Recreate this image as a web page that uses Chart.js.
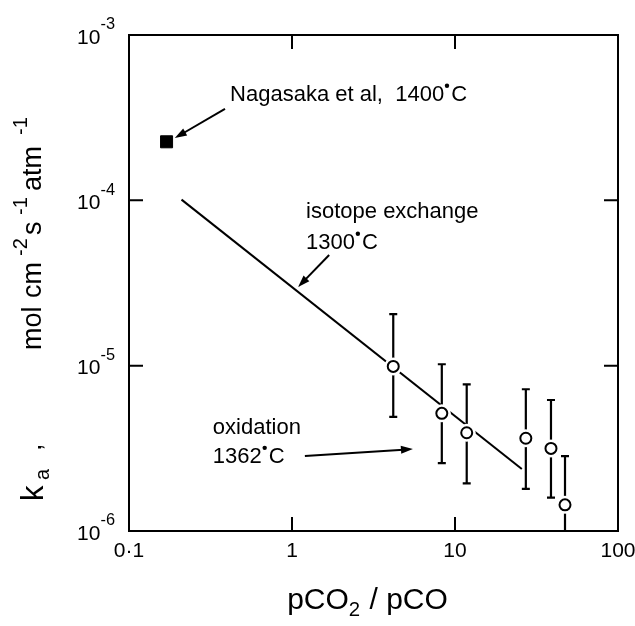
<!DOCTYPE html>
<html lang="en">
<head>
<meta charset="UTF-8">
<title>Surface rate constant vs pCO2/pCO</title>
<script src="https://cdn.jsdelivr.net/npm/chart.js"></script>
<style>
  html, body { margin: 0; padding: 0; background: #fff; }
  canvas { display: block; }
</style>
</head>
<body>
<canvas id="rateChart" width="635" height="626"></canvas>
<script>
// oxidation measurements, 1362 C (value plus error bar limits)
const ratio = [4.18, 8.3, 11.8, 27.2, 38.8, 47.3];
const rate = [9.9e-6, 5.15e-6, 3.93e-6, 3.64e-6, 3.16e-6, 1.44e-6];
const rateHigh = [2.05e-5, 1.02e-5, 7.7e-6, 7.2e-6, 6.2e-6, 2.84e-6];
const rateLow = [4.9e-6, 2.57e-6, 1.94e-6, 1.8e-6, 1.59e-6, 0.9e-6];

// isotope exchange line, 1300 C (end points)
const exchangeRatio = [0.21, 25.7];
const exchangeRate = [1.01e-4, 2.37e-6];

// Nagasaka et al, 1400 C
const nagasakaRatio = [0.17];
const nagasakaRate = [2.26e-4];

// axis ticks
const xTicks = [0.1, 1, 10, 100];
const xTickLabels = ['0·1', '1', '10', '100'];
const yTicks = [1e-6, 1e-5, 1e-4, 1e-3];
const yTickExp = ['-6', '-5', '-4', '-3'];
// small inward ticks on every side
const xInnerTicks = [1, 10];
const yInnerTicks = [1e-5, 1e-4];

const FONT = '"Liberation Sans", Arial, sans-serif';

// labels in data coordinates
const notes = [
  { x: 0.417, y: 4.34e-4, parts: [['Nagasaka et al,  1400'], ['', 'deg'], ['C']] },
  { x: 1.22, y: 8.5e-5, parts: [['isotope exchange']] },
  { x: 1.22, y: 5.52e-5, parts: [['1300'], ['', 'deg'], ['C']] },
  { x: 0.327, y: 4.2e-6, parts: [['oxidation']] },
  { x: 0.327, y: 2.8e-6, parts: [['1362'], ['', 'deg'], ['C']] }
];
const arrows = [
  { from: [0.388, 3.57e-4], to: [0.191, 2.38e-4] },
  { from: [1.69, 4.67e-5], to: [1.09, 2.99e-5] },
  { from: [1.2, 2.84e-6], to: [5.52, 3.13e-6] }
];

const toPoints = (xs, ys) => xs.map((x, i) => ({ x: x, y: ys[i] }));

// text with sub/superscripts and a raised degree dot
function richWidth(ctx, parts, size, supScale) {
  let w = 0;
  parts.forEach(p => {
    if (p[1] === 'deg') { w += size * 0.32; return; }
    const s = p[1] ? size * (supScale || 0.68) : size;
    ctx.font = s + 'px ' + FONT;
    w += ctx.measureText(p[0]).width + (p[1] ? 1 : 0);
  });
  return w;
}

function drawRich(ctx, x, y, parts, size, supScale, supRise) {
  ctx.textBaseline = 'middle';
  ctx.textAlign = 'left';
  let cx = x;
  parts.forEach(p => {
    if (p[1] === 'deg') {
      ctx.beginPath();
      ctx.arc(cx + size * 0.13, y - size * 0.42, size * 0.1, 0, Math.PI * 2);
      ctx.fill();
      cx += size * 0.32;
      return;
    }
    const s = p[1] ? size * (supScale || 0.68) : size;
    const dy = p[1] === 'sup' ? -size * (supRise || 0.45) : p[1] === 'sub' ? size * 0.32 : 0;
    ctx.font = s + 'px ' + FONT;
    ctx.fillText(p[0], cx, y + dy);
    cx += ctx.measureText(p[0]).width + (p[1] ? 1 : 0);
  });
}

function arrow(ctx, x1, y1, x2, y2) {
  const a = Math.atan2(y2 - y1, x2 - x1);
  const len = 12, half = 4;
  ctx.beginPath();
  ctx.moveTo(x1, y1);
  ctx.lineTo(x2 - Math.cos(a) * len * 0.8, y2 - Math.sin(a) * len * 0.8);
  ctx.stroke();
  ctx.beginPath();
  ctx.moveTo(x2, y2);
  ctx.lineTo(x2 - Math.cos(a) * len - Math.sin(a) * half, y2 - Math.sin(a) * len + Math.cos(a) * half);
  ctx.lineTo(x2 - Math.cos(a) * len + Math.sin(a) * half, y2 - Math.sin(a) * len - Math.cos(a) * half);
  ctx.closePath();
  ctx.fill();
}

// y title pieces: text, style, offset along the rotated baseline
const yTitle = [
  ['k', null, 26], ['a', 'sub', 47], [',', null, 76],
  ['mol', null, 177], ['cm', null, 229], ['-2', 'sup', 271],
  ['s', null, 292], ['-1', 'sup', 312], ['atm', null, 336], ['-1', 'sup', 392]
];

const framePlugin = {
  id: 'frame',
  beforeDatasetDraw(chart, args) {
    // error bars sit under the open circles
    if (args.index !== 2) return;
    const { ctx, chartArea: a, scales: { x, y } } = chart;
    ctx.save();
    ctx.beginPath();
    ctx.rect(a.left, a.top, a.right - a.left, a.bottom - a.top);
    ctx.clip();
    ctx.strokeStyle = '#000';
    ctx.lineWidth = 2.2;
    ratio.forEach((r, i) => {
      const px = x.getPixelForValue(r);
      const hi = y.getPixelForValue(rateHigh[i]);
      const lo = y.getPixelForValue(rateLow[i]);
      ctx.beginPath();
      ctx.moveTo(px, hi);
      ctx.lineTo(px, lo);
      ctx.moveTo(px - 4, hi);
      ctx.lineTo(px + 4, hi);
      ctx.moveTo(px - 4, lo);
      ctx.lineTo(px + 4, lo);
      ctx.stroke();
    });
    ctx.restore();
  },
  afterDraw(chart) {
    const { ctx, chartArea: a, scales: { x, y } } = chart;
    ctx.save();
    ctx.strokeStyle = '#000';
    ctx.fillStyle = '#000';
    ctx.lineWidth = 2;
    ctx.strokeRect(a.left, a.top, a.right - a.left, a.bottom - a.top);

    // inward ticks
    ctx.beginPath();
    xInnerTicks.forEach(v => {
      const px = x.getPixelForValue(v);
      ctx.moveTo(px, a.bottom); ctx.lineTo(px, a.bottom - 14);
      ctx.moveTo(px, a.top); ctx.lineTo(px, a.top + 14);
    });
    yInnerTicks.forEach(v => {
      const py = y.getPixelForValue(v);
      ctx.moveTo(a.left, py); ctx.lineTo(a.left + 14, py);
      ctx.moveTo(a.right, py); ctx.lineTo(a.right - 14, py);
    });
    ctx.stroke();

    // tick labels
    ctx.font = '21px ' + FONT;
    ctx.textAlign = 'center';
    ctx.textBaseline = 'middle';
    xTicks.forEach((v, i) => {
      ctx.fillText(xTickLabels[i], x.getPixelForValue(v), a.bottom + 20);
    });
    yTicks.forEach((v, i) => {
      const parts = [['10'], [yTickExp[i], 'sup']];
      const w = richWidth(ctx, parts, 21, 0.78);
      drawRich(ctx, a.left - 13 - w, y.getPixelForValue(v) + 3, parts, 21, 0.78, 0.62);
    });

    // annotations
    notes.forEach(n => {
      drawRich(ctx, x.getPixelForValue(n.x), y.getPixelForValue(n.y), n.parts, 22);
    });
    ctx.lineWidth = 2;
    arrows.forEach(ar => {
      arrow(ctx,
        x.getPixelForValue(ar.from[0]), y.getPixelForValue(ar.from[1]),
        x.getPixelForValue(ar.to[0]), y.getPixelForValue(ar.to[1]));
    });

    // axis titles
    const xTitle = [['pCO'], ['2', 'sub'], [' / pCO']];
    const xw = richWidth(ctx, xTitle, 30);
    drawRich(ctx, (a.left + a.right) / 2 - xw / 2 - 6, 601, xTitle, 30);

    ctx.translate(34, 527);
    ctx.rotate(-Math.PI / 2);
    ctx.textAlign = 'left';
    ctx.textBaseline = 'middle';
    yTitle.forEach(p => {
      const size = p[1] ? 20 : (p[0] === 'k' ? 31 : 27);
      const dy = p[1] === 'sup' ? -13 : p[1] === 'sub' ? 9 : 0;
      ctx.font = size + 'px ' + FONT;
      ctx.fillText(p[0], p[2], dy);
    });
    ctx.restore();
  }
};

new Chart(document.getElementById('rateChart'), {
  type: 'scatter',
  data: {
    datasets: [
      {
        // open circles
        data: toPoints(ratio, rate),
        pointRadius: 5.5,
        pointBackgroundColor: '#fff',
        pointBorderColor: '#000',
        pointBorderWidth: 2,
        order: 0
      },
      {
        data: toPoints(nagasakaRatio, nagasakaRate),
        pointStyle: 'rect',
        pointRadius: 8.5,
        pointBackgroundColor: '#000',
        pointBorderColor: '#000',
        pointBorderWidth: 1,
        order: 1
      },
      {
        // white gap around the circles, cuts the fit line
        data: toPoints(ratio, rate),
        pointRadius: 9,
        pointBackgroundColor: '#fff',
        pointBorderWidth: 0,
        order: 2
      },
      {
        type: 'line',
        data: toPoints(exchangeRatio, exchangeRate),
        borderColor: '#000',
        borderWidth: 2,
        pointRadius: 0,
        order: 3
      }
    ]
  },
  options: {
    responsive: false,
    animation: false,
    layout: { padding: { left: 129, right: 17, top: 35, bottom: 95 } },
    scales: {
      x: { type: 'logarithmic', min: 0.1, max: 100, display: false },
      y: { type: 'logarithmic', min: 1e-6, max: 1e-3, display: false }
    },
    plugins: { legend: { display: false }, tooltip: { enabled: false } }
  },
  plugins: [framePlugin]
});
</script>
</body>
</html>
